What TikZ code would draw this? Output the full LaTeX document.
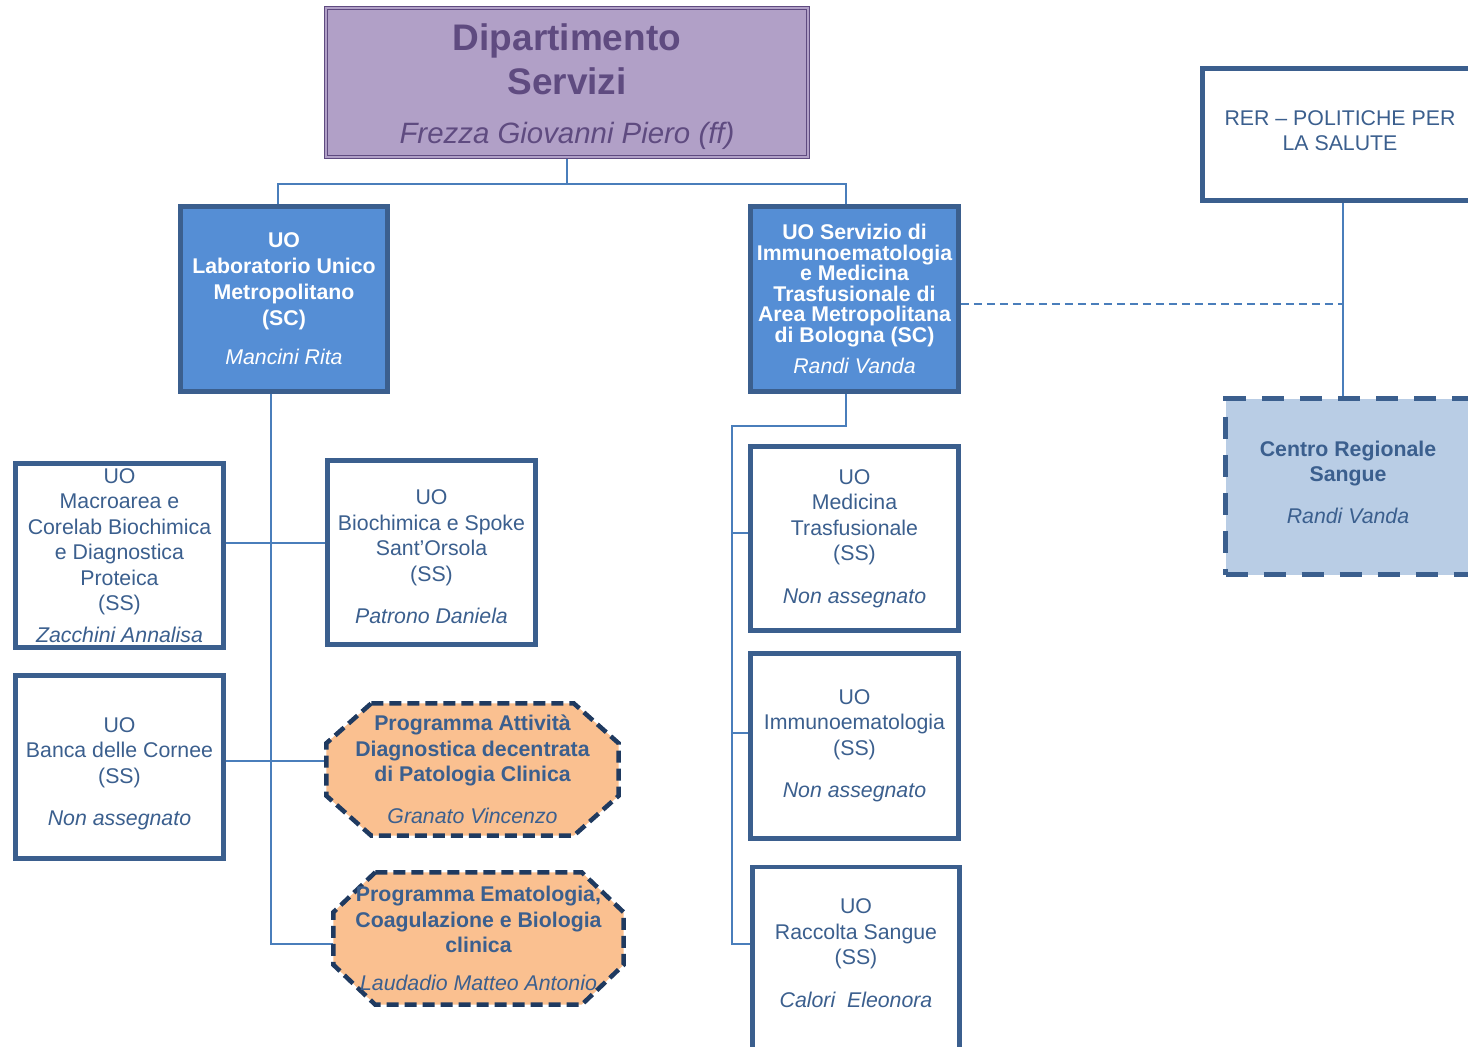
\documentclass[tikz,border=0pt]{standalone}
\usepackage{fontspec}
\setmainfont{Liberation Sans}
\usetikzlibrary{backgrounds}
\definecolor{dblue}{HTML}{3B5F8E}
\definecolor{fblue}{HTML}{558ED5}
\definecolor{connc}{HTML}{4A7EBB}
\definecolor{purf}{HTML}{B1A0C7}
\definecolor{purd}{HTML}{5F4B80}
\definecolor{orangef}{HTML}{FAC090}
\definecolor{navy}{HTML}{1F3A60}
\definecolor{lblue}{HTML}{B9CDE5}
\newcommand\setfs[2]{\fontsize{#1}{#2}\selectfont}
\newcommand\octpath[3]{\path[octline] ([xshift=#2]#1.north west) -- ([xshift=-#2]#1.north east) -- ([yshift=-#3]#1.north east) -- ([yshift=#3]#1.south east) -- ([xshift=-#2]#1.south east) -- ([xshift=#2]#1.south west) -- ([yshift=#3]#1.south west) -- ([yshift=-#3]#1.north west) -- cycle;}
\tikzset{
  conn/.style={draw=connc, line width=2pt},
  dconn/.style={conn, dash pattern=on 8pt off 5pt},
  wbox/.style={draw=dblue, line width=4.8pt, fill=white, text=dblue, align=center, inner sep=0pt, font=\setfs{21.3}{25.5}},
  wtext/.style={text=dblue, align=center, inner sep=0pt, font=\setfs{21.3}{25.5}},
  bbox/.style={draw=dblue, line width=4.8pt, fill=fblue, text=white, align=center, inner sep=0pt},
  octtext/.style={text=dblue, align=center, inner sep=0pt, font=\bfseries\setfs{21.3}{25.5}},
  octline/.style={draw=navy, fill=orangef, line width=4.5pt, dash pattern=on 12pt off 6pt},
  deptbox/.style={draw=purd, double=purf, double distance=2.5pt, line width=1.2pt, fill=purf, text=purd, align=center, inner sep=0pt},
  crbox/.style={draw=dblue, fill=lblue, line width=5pt, dash pattern=on 22pt off 16pt, text=dblue, align=center, inner sep=0pt}
}
\begin{document}
\begin{tikzpicture}[x=1pt,y=-1pt]
\useasboundingbox (0,0) rectangle (1468,1047);
\clip (0,0) rectangle (1468,1047);

% department
\node[deptbox, minimum width=482, minimum height=149] (dept) at (567,82.5) {};
\node[text=purd, align=center, inner sep=0pt, font=\bfseries\setfs{37}{44}] (depttext) at (567,87)
  {Dipartimento\\Servizi\\[5pt]{\mdseries\itshape\setfs{29.4}{34}Frezza Giovanni Piero (ff)}};

% main units
\node[bbox, minimum width=207, minimum height=185, font=\bfseries\setfs{21.3}{26}] (lab) at (284,299)
  {UO\\Laboratorio Unico\\Metropolitano\\(SC)\\[13pt]{\mdseries\itshape Mancini Rita}};
\node[bbox, minimum width=208, minimum height=185, font=\bfseries\setfs{21.3}{20.5}] (rb) at (854.5,299)
  {UO Servizio di\\Immunoematologia\\e Medicina\\Trasfusionale di\\Area Metropolitana\\di Bologna (SC)\\[11pt]{\mdseries\itshape Randi Vanda}};

% left subunits
\node[wbox, minimum width=208, minimum height=184] (mac) at (119.5,555.5)
  {UO\\Macroarea e\\Corelab Biochimica\\e Diagnostica\\Proteica\\(SS)\\[6pt]{\itshape Zacchini Annalisa}};
\node[wbox, minimum width=208, minimum height=184] (bio) at (431.5,552.5) {};
\node[wtext] (biotext) at (431.5,557)
  {UO\\Biochimica e Spoke\\Sant’Orsola\\(SS)\\[17pt]{\itshape Patrono Daniela}};
\node[wbox, minimum width=208, minimum height=183] (banca) at (119.5,767) {};
\node[wtext] (bancatext) at (119.5,774)
  {UO\\Banca delle Cornee\\(SS)\\[17pt]{\itshape Non assegnato}};
\node[octtext, minimum width=292, minimum height=132] (o1) at (472.5,769.5)
  {Programma Attività\\Diagnostica decentrata\\di Patologia Clinica\\[16pt]{\mdseries\itshape Granato Vincenzo}};
\node[octtext, minimum width=290, minimum height=132] (o2) at (478.5,938.5)
  {Programma Ematologia,\\Coagulazione e Biologia\\clinica\\[12pt]{\mdseries\itshape Laudadio Matteo Antonio}};

% right subunits
\node[wbox, minimum width=208, minimum height=184] (med) at (854.5,538.5)
  {UO\\Medicina\\Trasfusionale\\(SS)\\[17pt]{\itshape Non assegnato}};
\node[wbox, minimum width=208, minimum height=185] (imm) at (854.5,746)
  {UO\\Immunoematologia\\(SS)\\[17pt]{\itshape Non assegnato}};
\node[wbox, minimum width=207, minimum height=220, anchor=north] (rs) at (856,864.5) {};
\node[wtext] (rstext) at (856,953)
  {UO\\Raccolta Sangue\\(SS)\\[17pt]{\itshape Calori\ \ Eleonora}};

% regional
\node[wbox, minimum width=281, minimum height=132] (rer) at (1343,134.5) {};
\node[wtext, font=\setfs{21.3}{25}] (rertext) at (1340,130.5) {RER – POLITICHE PER\\LA SALUTE};
\node[crbox, minimum width=245, minimum height=176] (cr) at (1348,486.5) {};
\node[wtext, font=\bfseries\setfs{21.3}{25}] (crtext) at (1348,482)
  {Centro Regionale\\Sangue\\[17pt]{\mdseries\itshape Randi Vanda}};

\coordinate (rt) at (732,426);
\coordinate (rbot) at (732,944);

\begin{pgfonlayer}{background}
\fill[white] (0,0) rectangle (1468,1047);
\draw[conn] (dept.south) -- ++(0,26) coordinate (tj);
\draw[conn] ([xshift=-6]lab.north) |- (tj) -| ([xshift=-8.5]rb.north);
\draw[conn] ([xshift=-13]lab.south) |- ([yshift=-5.5]o2.west);
\draw[conn] ([yshift=12.5]mac.east) -- ([yshift=12.5]mac.east -| bio.west);
\draw[conn] ([yshift=6]banca.east) -- ([yshift=6]banca.east -| o1.west);
\draw[conn] ([xshift=-8.5]rb.south) |- (rt) -- (rbot) -- (rbot -| rs.west);
\draw[conn] ([yshift=5.5]med.west) -- ([yshift=5.5]med.west -| rt);
\draw[conn] ([yshift=13]imm.west) -- ([yshift=13]imm.west -| rt);
\draw[dconn] ([yshift=-5]rb.east) -- ([yshift=-5]rb.east -| rer.south);
\draw[conn] (rer.south) -- (rer.south |- cr.north);
\octpath{o1}{45}{40}
\octpath{o2}{42}{40}
\end{pgfonlayer}
\end{tikzpicture}
\end{document}
